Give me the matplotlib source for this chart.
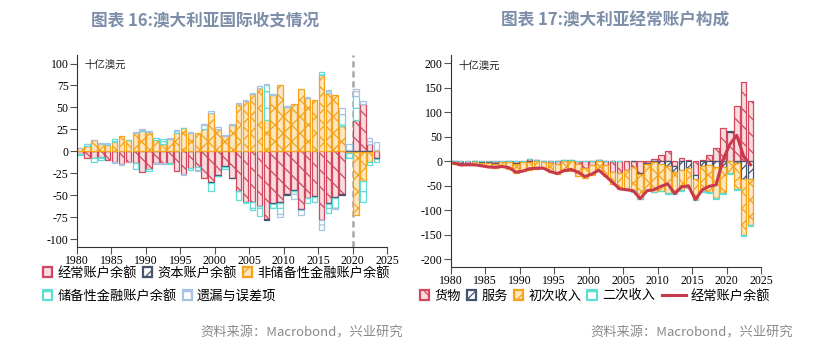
import matplotlib.pyplot as plt
import numpy as np
from matplotlib.patches import Patch
from matplotlib.lines import Line2D

plt.rcParams['font.family'] = ['Noto Sans CJK SC', 'DejaVu Sans']
plt.rcParams['hatch.linewidth'] = 0.9

years = np.arange(1980, 2024)

# 图表16: 国际收支 (十亿澳元)
current_acct = [-3.5, -7.5, -7, -6.5, -10, -12, -14, -11.5, -13.5, -23.5,
                -20, -13.7, -13.5, -13.5, -22, -25.5, -18.5, -17.5, -30, -35,
                -27, -17, -30, -44.5, -57, -57, -62, -77, -59, -58,
                -49, -44, -66, -53, -51, -78, -59, -52, -49, 2,
                36, 54, 8.5, -8]
capital_acct = [0.5, 0.5, 0.5, 0.5, 0.5, 0.5, 0.5, 0.5, 0.5, 0.5,
                0.5, 0.5, 0.5, 0.5, 0.5, 0.5, 0.5, 0.5, 0.5, -0.5,
                -0.5, -0.5, -0.5, -0.5, -0.5, -0.5, -0.5, -0.5, -0.5, -0.5,
                -0.5, -0.5, -0.5, -0.5, -0.5, -0.5, -0.5, -0.5, -0.5, -0.5,
                -0.5, -0.5, -0.5, -0.5]
nonreserve_fa = [3, 6, 12.5, 8.5, 7, 10, 16.5, 12.5, 20, 23,
                 21.5, 13, 8, 13.5, 21, 26, 20.5, 20.5, 25, 44,
                 25, 17, 29.5, 54, 57, 65, 72, 36, 64, 75,
                 50, 54, 71.5, 61, 58, 87.5, 67, 64, 28.5, -1.5,
                 -72, -33.5, -11.5, 2]
reserve_fa = [-0.5, 1.5, -5, -3.5, 0.5, 3.5, -0.5, 0.5, -6.5, 0.5,
              -2, 1.5, 6, -0.5, 1.5, 0.5, -2.5, -3.5, 4.5, -10,
              -1, -2, 0.5, -10, -1, -9.5, -11, 40, -5, -12.5,
              0.5, -4, -0.5, -5.5, -5.5, 3, -10, -12, 14, -5,
              26.5, -23.5, -3, -3]
errors = [0.5, 0.5, 0.5, 1, 1.5, -1, -1.5, -1, 1.5, 1,
          1.5, -1, -1, 1, 1.5, -1, 1.5, -1, 1, 2,
          3, 2, 1, 1, 1, 2, 2, 1, 1.5, -4,
          1, -5.5, -5, 1, -1, -11, 3, -1, 7, 7,
          9, 3, 7, 9]

# 图表17: 经常账户构成 (十亿澳元)
goods = [1, -3, -3, 0.5, -1, -1.5, -3, -1, 0.5, -4,
         -1, 4, 2, -0.5, -4, -5, 1, 1.5, -5, -13,
         -7, 2, -8, -22, -24, -17, -12, -24, -3, 5,
         12, 22, -10, 7, 3, -27, 3, 13.5, 27, 68,
         59, 113, 161, 124]
services = [-1.5, -1.5, -1.5, -1.5, -1.5, -2, -2, -1, -1.5, -2,
            -1, -0.5, 0, 0.5, 0, 0, 1, 0.5, -1, -1,
            1, 1, 0.5, 1, -0.5, -0.5, 0, -1, -2, -2,
            -5, -10, -12, -17, -13.5, -10, -10, -7, -12, -11,
            3.5, -3, -37, -37]
primary_inc = [-3.5, -3.5, -3, -6, -8, -9, -9.5, -10.5, -13.5, -18.5,
               -18.5, -17.7, -15.5, -13.5, -18, -20.5, -20.5, -19.5, -24, -21,
               -21, -20, -22.5, -23.5, -32.5, -39, -49.5, -51.5, -53.5, -60,
               -55, -54.5, -42.5, -41.5, -39, -39.5, -50.5, -56.5, -62, -53,
               -24, -53, -112.5, -92]
secondary_inc = [0.5, 0.5, 0.5, 0.5, 0.5, 0.5, 0.5, 1, 1, 1,
                 0.5, 0.5, 0, 0, 0, 0, 0, 0, 0, 0,
                 0, 0, 0, 0, 0, -0.5, -0.5, -0.5, -0.5, -1,
                 -1, -1.5, -1.5, -1.5, -1.5, -1.5, -1.5, -2, -2, -2,
                 -2.5, -3, -3, -3]
ca_line = [-3.5, -7.5, -7, -7, -9, -11.5, -12, -10.5, -13, -22,
           -20, -15, -14, -14, -21, -25, -19, -16.5, -22, -31,
           -26, -18, -30, -43, -56, -58, -60, -76, -60, -58,
           -51, -46, -66, -52, -50, -78, -58, -51, -48, 3,
           35, 53, 10, -7]

RED = '#d2485c'
NAVY = '#46546e'
ORANGE = '#f5a31a'
CYAN = '#5fdcd6'
LBLUE = '#a7c3e2'
TITLE_C = '#7c8ea9'

style_red = dict(facecolor='#f8dce0', edgecolor=RED, hatch='\\\\')
style_navy = dict(facecolor='white', edgecolor=NAVY, hatch='///')
style_orange = dict(facecolor='#fde6c0', edgecolor=ORANGE, hatch='xx')
style_cyan = dict(facecolor='white', edgecolor=CYAN, hatch='-')
style_lblue = dict(facecolor='white', edgecolor=LBLUE, hatch='-')


def stacked(ax, x, series, styles):
    pos = np.zeros(len(x))
    neg = np.zeros(len(x))
    for vals, st in zip(series, styles):
        v = np.asarray(vals, dtype=float)
        bottom = np.where(v >= 0, pos, neg)
        ax.bar(x, v, width=0.8, bottom=bottom, linewidth=0.9, **st)
        pos = pos + np.clip(v, 0, None)
        neg = neg + np.clip(v, None, 0)


def style_axis(ax, yticks):
    for s in ['top', 'right']:
        ax.spines[s].set_visible(False)
    ax.spines['left'].set_color('#333333')
    ax.spines['bottom'].set_color('#333333')
    ax.set_xlim(1980, 2025)
    ax.set_xticks(range(1980, 2026, 5))
    ax.set_xticklabels([str(y) for y in range(1980, 2026, 5)],
                       family='Liberation Serif', fontsize=8.5)
    ax.set_yticks(yticks)
    ax.set_yticklabels([str(t) for t in yticks], family='Liberation Serif', fontsize=8.5)
    ax.tick_params(axis='both', length=5, color='#555555', pad=1)
    ax.text(0.025, 0.975, '十亿澳元', transform=ax.transAxes, fontsize=7.5,
            va='top', ha='left', color='#222222')


fig = plt.figure(figsize=(8.24, 3.51), dpi=100)
W, H = 824, 351

x = years + 0.45

# left panel
ax1 = fig.add_axes([77 / W, 1 - 246.7 / H, 310.3 / W, 191.7 / H])
stacked(ax1, x, [current_acct, capital_acct, nonreserve_fa, reserve_fa, errors],
        [style_red, style_navy, style_orange, style_cyan, style_lblue])
ax1.axvline(2020, color='#a6a6a6', ls=(0, (2.5, 1.5)), lw=1.8, zorder=0)
ax1.set_ylim(-108.4, 109.7)
style_axis(ax1, list(range(-100, 101, 25)))

# right panel
ax2 = fig.add_axes([450.7 / W, 1 - 266.7 / H, 310.6 / W, 211.7 / H])
stacked(ax2, x, [goods, services, primary_inc, secondary_inc],
        [style_red, style_navy, style_orange, style_cyan])
ax2.plot(x, ca_line, color='#c9394c', lw=2.2, zorder=5)
ax2.set_ylim(-215, 217)
style_axis(ax2, list(range(-200, 201, 50)))

# titles
fig.text(205 / W, 1 - 20 / H, '图表 16:澳大利亚国际收支情况', ha='center', va='center',
         fontsize=12, fontweight='bold', color=TITLE_C)
fig.text(615 / W, 1 - 20 / H, '图表 17:澳大利亚经常账户构成', ha='center', va='center',
         fontsize=12, fontweight='bold', color=TITLE_C)

# source notes
fig.text(403 / W, 1 - 333 / H, '资料来源：Macrobond，兴业研究', ha='right', va='center',
         fontsize=9.5, color='#8a8a8a')
fig.text(793 / W, 1 - 333 / H, '资料来源：Macrobond，兴业研究', ha='right', va='center',
         fontsize=9.5, color='#8a8a8a')


def patch(st):
    return Patch(linewidth=1.6, **st)


leg_kw = dict(frameon=False, fontsize=9.5, handlelength=0.7, handleheight=0.7,
              handletextpad=0.4, columnspacing=0.45, borderpad=0, borderaxespad=0,
              loc='center left')

l1 = fig.legend([patch(style_red), patch(style_navy), patch(style_orange)],
                ['经常账户余额', '资本账户余额', '非储备性金融账户余额'],
                ncol=3, bbox_to_anchor=(43 / W, 1 - 273 / H), **leg_kw)
l2 = fig.legend([patch(style_cyan), patch(style_lblue)],
                ['储备性金融账户余额', '遗漏与误差项'],
                ncol=2, bbox_to_anchor=(43 / W, 1 - 296 / H), **leg_kw)
l3 = fig.legend([patch(style_red), patch(style_navy), patch(style_orange), patch(style_cyan)],
                ['货物', '服务', '初次收入', '二次收入'],
                ncol=4, bbox_to_anchor=(420 / W, 1 - 296 / H), **leg_kw)
l4 = fig.legend([Line2D([], [], color='#c9394c', lw=2.2)], ['经常账户余额'],
                ncol=1, bbox_to_anchor=(662 / W, 1 - 296 / H),
                **{**leg_kw, 'handlelength': 1.8})

fig.savefig('out.png', dpi=100)
